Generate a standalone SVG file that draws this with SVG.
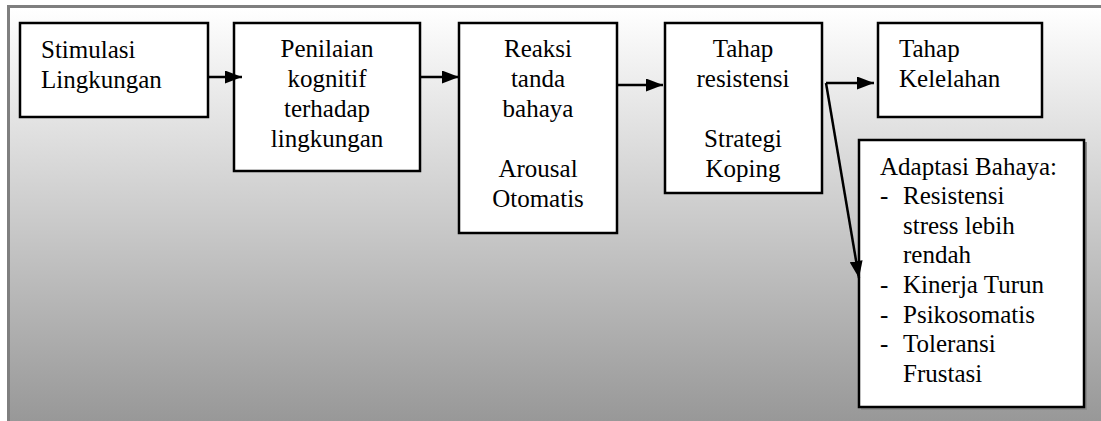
<svg xmlns="http://www.w3.org/2000/svg" width="1101" height="421" viewBox="0 0 1101 421">
  <defs>
    <linearGradient id="bg" x1="0" y1="8" x2="0" y2="421" gradientUnits="userSpaceOnUse">
      <stop offset="0" stop-color="#ffffff"/>
      <stop offset="1" stop-color="#989898"/>
    </linearGradient>
    <marker id="head" markerUnits="userSpaceOnUse" markerWidth="17" markerHeight="13" refX="17" refY="6.5" orient="auto">
      <path d="M0,0 L17,6.5 L0,13 Z" fill="#000"/>
    </marker>
  </defs>
  <style>
    .box { fill: #fff; stroke: #000; stroke-width: 2.5; }
    .shadow { fill: #8a8a8a; }
    text { font-family: 'Liberation Serif', 'DejaVu Serif', 'Times New Roman', Times, serif; font-size: 25px; fill: #000; }
    .c { text-anchor: middle; }
    .link { stroke: #000; stroke-width: 2.5; fill: none; marker-end: url(#head); }
  </style>

  <!-- page background with frame -->
  <rect x="0" y="0" width="1101" height="421" fill="#fff"/>
  <rect x="9" y="7" width="1092" height="414" fill="url(#bg)"/>
  <path d="M8.5,421 V6.5 H1101" fill="none" stroke="#7f7f7f" stroke-width="3"/>

  <g id="stimulasi">
    <rect class="box" x="20" y="23" width="188" height="94"/>
    <text x="41" y="58">Stimulasi</text>
    <text x="41" y="88">Lingkungan</text>
  </g>

  <g id="penilaian">
    <rect class="box" x="234" y="23" width="186" height="148"/>
    <text class="c" x="327" y="57">Penilaian</text>
    <text class="c" x="327" y="87">kognitif</text>
    <text class="c" x="327" y="117">terhadap</text>
    <text class="c" x="327" y="147">lingkungan</text>
  </g>

  <g id="reaksi">
    <rect class="box" x="459" y="23" width="158" height="210"/>
    <text class="c" x="538" y="57">Reaksi</text>
    <text class="c" x="538" y="87">tanda</text>
    <text class="c" x="538" y="117">bahaya</text>
    <text class="c" x="538" y="177">Arousal</text>
    <text class="c" x="538" y="207">Otomatis</text>
  </g>

  <g id="resistensi">
    <rect class="box" x="665" y="23" width="157" height="170"/>
    <text class="c" x="743" y="57">Tahap</text>
    <text class="c" x="743" y="87">resistensi</text>
    <text class="c" x="743" y="147">Strategi</text>
    <text class="c" x="743" y="177">Koping</text>
  </g>

  <g id="kelelahan">
    <rect class="box" x="878" y="23" width="164" height="94"/>
    <text x="899" y="57">Tahap</text>
    <text x="899" y="87">Kelelahan</text>
  </g>

  <g id="adaptasi">
    <rect class="shadow" x="861" y="142" width="226" height="268"/>
    <rect class="box" x="859" y="140" width="225" height="267"/>
    <text x="880" y="175">Adaptasi Bahaya:</text>
    <text x="880" y="204">-</text>
    <text x="903" y="204">Resistensi</text>
    <text x="903" y="234">stress lebih</text>
    <text x="903" y="263">rendah</text>
    <text x="880" y="293">-</text>
    <text x="903" y="293">Kinerja Turun</text>
    <text x="880" y="323">-</text>
    <text x="903" y="323">Psikosomatis</text>
    <text x="880" y="352">-</text>
    <text x="903" y="352">Toleransi</text>
    <text x="903" y="382">Frustasi</text>
  </g>

  <g id="connectors">
    <line class="link" x1="208" y1="77" x2="242" y2="77"/>
    <line class="link" x1="420" y1="77" x2="459" y2="77"/>
    <line class="link" x1="617" y1="85" x2="663" y2="85"/>
    <line class="link" x1="826" y1="83" x2="874" y2="83"/>
    <line class="link" x1="826" y1="83" x2="859" y2="278"/>
  </g>
</svg>
